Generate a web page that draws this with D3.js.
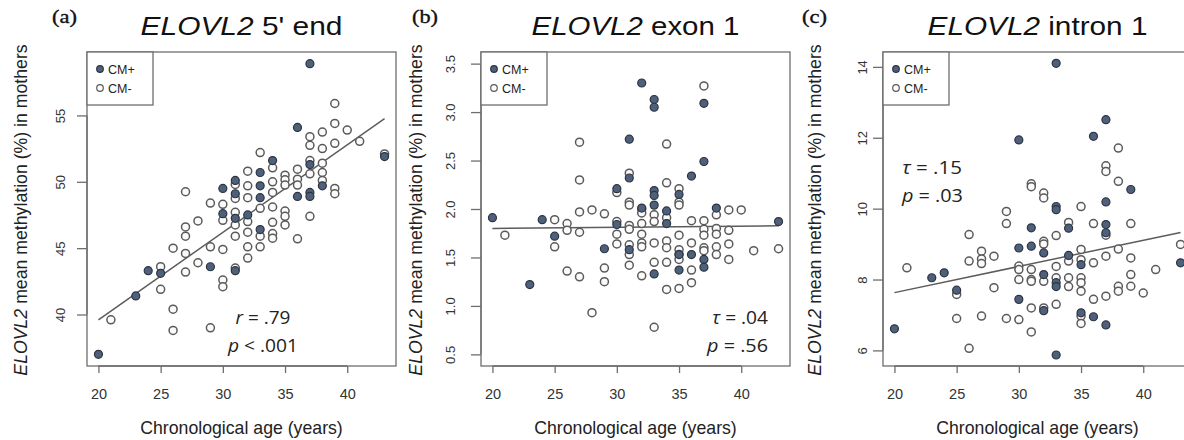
<!DOCTYPE html>
<html>
<head>
<meta charset="utf-8">
<script src="https://cdn.jsdelivr.net/npm/d3@7"></script>
<style>
html,body{margin:0;padding:0;background:#fff;}
svg{display:block;}
</style>
</head>
<body>
<svg id="chart" width="1184" height="440"></svg>
<script>
// ---------------- DATA ----------------
const panelLetters = ["(a)", "(b)", "(c)"];
const titleRest = [" 5' end", " exon 1", " intron 1"];
const xTicks = [20, 25, 30, 35, 40];
const yTicksA = [40, 45, 50, 55];
const yTicksB = [0.5, 1.0, 1.5, 2.0, 2.5, 3.0, 3.5];
const yTicksC = [6, 8, 10, 12, 14];
const legendLabels = ["CM+", "CM-"];
const statsA = [["r", " = .79"], ["p", " < .001"]];
const statsB = [["τ", " = .04"], ["p", " = .56"]];
const statsC = [["τ", " = .15"], ["p", " = .03"]];
// fitted regression lines: [intercept, slope], drawn over ages 20–43
const fitA = [26.43, 0.6587];
const fitB = [1.7774, 0.00113];
const fitC = [6.152, 0.0739];
const fitRange = [20, 43];

// [age, methylation]
const aPlus = [[20,37.0],[23,41.4],[24,43.3],[25,43.1],[29,43.6],[30,49.5],[30,47.6],[31,50.1],[31,49.1],[31,47.25],[31,43.3],[32,47.5],[33,50.7],[33,49.7],[33,48.8],[33,46.4],[34,51.6],[36,54.1],[36,48.9],[37,58.9],[37,51.3],[37,49.2],[37,48.9],[38,49.7],[43,51.9]];
const aMinus = [[21,39.6],[25,43.6],[25,41.9],[26,45.0],[26,40.4],[26,38.8],[27,49.25],[27,46.6],[27,45.9],[27,44.6],[27,43.2],[28,47.05],[28,43.9],[29,48.4],[29,45.1],[29,39.0],[30,48.3],[30,47.1],[30,44.9],[30,42.6],[30,42.1],[31,49.8],[31,48.75],[31,47.7],[31,46.75],[31,45.9],[31,43.5],[32,50.8],[32,49.7],[32,48.8],[32,47.0],[32,46.2],[32,45.1],[32,44.25],[33,52.2],[33,48.0],[33,45.9],[33,45.1],[34,51.05],[34,50.0],[34,49.2],[34,48.1],[34,46.95],[34,46.1],[34,45.75],[35,50.5],[35,50.15],[35,49.75],[35,47.8],[35,47.4],[35,46.75],[36,50.95],[36,50.2],[36,49.75],[36,45.7],[37,53.4],[37,52.75],[37,51.6],[37,50.6],[37,47.4],[38,53.75],[38,52.5],[38,51.4],[38,50.7],[38,50.1],[39,55.9],[39,54.4],[39,52.9],[39,49.5],[39,49.1],[40,53.9],[41,53.05],[43,52.1]];

const bPlus = [[20,1.91],[23,1.22],[24,1.89],[25,1.72],[29,1.59],[30,2.21],[30,1.84],[31,2.72],[31,2.32],[31,1.58],[32,3.30],[32,2.01],[33,3.13],[33,3.05],[33,2.19],[33,2.14],[33,2.04],[33,1.33],[34,1.98],[34,1.85],[35,2.15],[35,1.53],[35,1.37],[36,2.34],[36,1.53],[37,3.09],[37,2.49],[37,1.48],[37,1.40],[38,2.01],[43,1.87]];
const bMinus = [[21,1.73],[25,1.89],[25,1.61],[26,1.85],[26,1.78],[26,1.36],[27,2.69],[27,2.30],[27,1.97],[27,1.76],[27,1.30],[28,1.99],[28,0.93],[29,1.95],[29,1.39],[29,1.25],[30,2.17],[30,1.87],[30,1.74],[30,1.64],[31,2.37],[31,2.07],[31,2.04],[31,1.83],[31,1.79],[31,1.63],[31,1.53],[31,1.42],[32,2.00],[32,1.96],[32,1.85],[32,1.74],[32,1.65],[32,1.61],[32,1.31],[33,1.94],[33,1.87],[33,1.65],[33,1.45],[33,0.78],[34,2.67],[34,2.27],[34,1.91],[34,1.67],[34,1.60],[34,1.45],[34,1.17],[35,2.21],[35,2.07],[35,2.04],[35,1.73],[35,1.58],[35,1.53],[35,1.48],[35,1.18],[36,1.88],[36,1.65],[36,1.37],[36,1.24],[37,3.27],[37,1.88],[37,1.79],[37,1.73],[37,1.60],[37,1.57],[38,1.94],[38,1.80],[38,1.74],[38,1.61],[38,1.53],[39,1.99],[39,1.78],[39,1.64],[39,1.48],[40,1.99],[41,1.57],[43,1.59]];

const cPlus = [[20,6.61],[23,8.05],[24,8.19],[25,7.70],[30,11.94],[30,8.89],[30,7.44],[31,9.46],[31,8.94],[32,8.75],[32,8.14],[32,7.12],[33,14.10],[33,10.06],[33,9.97],[33,7.91],[33,7.80],[33,5.87],[34,8.68],[34,9.45],[35,8.42],[35,7.06],[36,12.04],[36,6.95],[37,12.51],[37,10.19],[37,9.55],[37,9.32],[37,6.72],[39,10.54],[43,8.47]];
const cMinus = [[21,8.33],[25,7.58],[25,6.90],[26,9.27],[26,8.52],[26,6.06],[27,8.80],[27,8.58],[27,8.45],[27,6.97],[28,8.66],[28,7.77],[29,9.92],[29,9.58],[29,6.90],[30,8.38],[30,8.28],[30,8.0],[30,6.87],[31,10.70],[31,10.62],[31,8.28],[31,8.0],[31,7.95],[31,7.20],[31,6.52],[32,10.44],[32,10.30],[32,9.08],[32,9.0],[32,7.95],[32,7.20],[33,9.24],[33,8.37],[33,8.05],[33,7.30],[34,9.61],[34,8.52],[34,8.05],[34,7.80],[35,10.06],[35,8.85],[35,8.56],[35,8.05],[35,7.91],[35,7.67],[35,6.97],[35,6.76],[36,9.58],[36,8.47],[36,7.44],[37,11.21],[37,11.05],[37,9.25],[37,8.66],[37,7.53],[38,11.71],[38,10.77],[38,8.86],[38,7.81],[38,7.67],[39,9.58],[39,8.61],[39,8.14],[39,7.81],[40,7.62],[41,8.28],[43,8.99]];

// ---------------- LAYOUT ----------------
const panels = [
  {L:87,  yDomain:[36.12,59.78], yTicks:yTicksA, fmt:d=>String(d), plus:aPlus, minus:aMinus, fit:fitA,
   stats:statsA, statAnchor:"middle", statX:263, statY:[324,352], statW:[55,70],
   titleW:202, letterX:52, letterW:25, yTickBase:65, yLabBase:27},
  {L:481, yDomain:[0.38,3.62], yTicks:yTicksB, fmt:d3.format(".1f"), plus:bPlus, minus:bMinus, fit:fitB,
   stats:statsB, statAnchor:"end", statX:768, statY:[324,352], statW:[56,61],
   titleW:208, letterX:412, letterW:26, yTickBase:455, yLabBase:422},
  {L:883, yDomain:[5.56,14.42], yTicks:yTicksC, fmt:d=>String(d), plus:cPlus, minus:cMinus, fit:fitC,
   stats:statsC, statAnchor:"start", statX:902, statY:[174,202], statW:[60,61],
   titleW:220, letterX:802, letterW:25, yTickBase:867, yLabBase:821}
];
const boxW = 309, boxTop = 52, boxBottom = 366;
const boxColor = "#6e6e6e";
const plusFill = "#4f607a", plusStroke = "#2c3442";
const minusFill = "#fbfbfb", minusStroke = "#5a5a5a";
const sansFont = "'Liberation Sans', Arial, sans-serif";

const svg = d3.select("#chart");

function scaleToWidth(sel, x, y, w) {
  const cur = sel.node().getComputedTextLength();
  const s = cur > 0 ? w / cur : 1;
  sel.attr("transform", `translate(${x},${y}) scale(${s},1)`);
}

panels.forEach((p, i) => {
  const g = svg.append("g");
  const x = d3.scaleLinear().domain([19.08, 43.92]).range([p.L, p.L + boxW]);
  const y = d3.scaleLinear().domain(p.yDomain).range([boxBottom, boxTop]);
  const cx = p.L + boxW / 2;

  // box
  g.append("rect").attr("x", p.L).attr("y", boxTop).attr("width", boxW).attr("height", boxBottom - boxTop)
    .attr("fill", "none").attr("stroke", boxColor).attr("stroke-width", 1.3);

  // x axis
  const xa = g.append("g").attr("transform", `translate(0,${boxBottom})`)
    .call(d3.axisBottom(x).tickValues(xTicks).tickSize(7).tickSizeOuter(0).tickFormat(d => d));
  xa.select(".domain").attr("stroke", boxColor).attr("stroke-width", 1.3)
    .attr("d", `M${x(xTicks[0])},0H${x(xTicks[xTicks.length-1])}`);
  xa.selectAll(".tick line").attr("stroke", boxColor).attr("stroke-width", 1.3);
  xa.selectAll(".tick text").attr("fill", "#333").attr("font-family", sansFont)
    .attr("font-size", 14.5).attr("y", 0).attr("dy", null)
    .attr("transform", "translate(0,33)");

  // y axis
  const ya = g.append("g").attr("transform", `translate(${p.L},0)`)
    .call(d3.axisLeft(y).tickValues(p.yTicks).tickSize(10).tickSizeOuter(0).tickFormat(p.fmt));
  ya.select(".domain").attr("stroke", boxColor).attr("stroke-width", 1.3)
    .attr("d", `M0,${y(p.yTicks[0])}V${y(p.yTicks[p.yTicks.length-1])}`);
  ya.selectAll(".tick line").attr("stroke", boxColor).attr("stroke-width", 1.3);
  ya.selectAll(".tick text").attr("fill", "#333").attr("font-family", sansFont)
    .attr("font-size", 13).attr("x", 0).attr("dy", null).attr("text-anchor", "middle")
    .attr("transform", `translate(${p.yTickBase - p.L},0) rotate(-90)`);

  // regression line
  g.append("path")
    .datum(fitRange)
    .attr("d", d3.line().x(d => x(d)).y(d => y(p.fit[0] + p.fit[1] * d)))
    .attr("fill", "none").attr("stroke", "#5c5c5c").attr("stroke-width", 1.5);

  // points
  g.append("g").selectAll("circle").data(p.minus).join("circle")
    .attr("cx", d => x(d[0])).attr("cy", d => y(d[1])).attr("r", 4)
    .attr("fill", minusFill).attr("stroke", minusStroke).attr("stroke-width", 1.5);
  g.append("g").selectAll("circle").data(p.plus).join("circle")
    .attr("cx", d => x(d[0])).attr("cy", d => y(d[1])).attr("r", 4)
    .attr("fill", plusFill).attr("stroke", plusStroke).attr("stroke-width", 1.2);

  // legend
  const lg = g.append("g");
  lg.append("rect").attr("x", p.L).attr("y", boxTop).attr("width", 66).attr("height", 53)
    .attr("fill", "#fff").attr("stroke", boxColor).attr("stroke-width", 1.3);
  legendLabels.forEach((lab, k) => {
    const ly = 69 + k * 19;
    lg.append("circle").attr("cx", p.L + 13).attr("cy", ly).attr("r", 3.3)
      .attr("fill", k === 0 ? plusFill : minusFill)
      .attr("stroke", k === 0 ? plusStroke : minusStroke).attr("stroke-width", 1.2);
    lg.append("text").attr("x", p.L + 21).attr("y", ly + 5).text(lab)
      .attr("font-family", sansFont).attr("font-size", 12.5).attr("fill", "#222");
  });

  // stats
  p.stats.forEach((s, k) => {
    const t = g.append("text").attr("text-anchor", p.statAnchor)
      .attr("font-family", "'Open Sans', 'Noto Sans', sans-serif").attr("font-size", 18).attr("fill", "#222");
    t.append("tspan").attr("font-style", "italic").text(s[0]);
    t.append("tspan").text(s[1]);
    scaleToWidth(t, p.statX, p.statY[k], p.statW[k]);
  });

  // title
  const tt = g.append("text").attr("text-anchor", "middle")
    .attr("font-family", sansFont).attr("font-size", 25).attr("fill", "#111");
  tt.append("tspan").attr("font-style", "italic").text("ELOVL2");
  tt.append("tspan").text(titleRest[i]);
  scaleToWidth(tt, cx, 35, p.titleW);

  // panel letter
  const lt = g.append("text").attr("text-anchor", "start")
    .attr("font-family", "'Liberation Serif', 'Times New Roman', serif").attr("font-size", 19)
    .attr("fill", "#111").attr("stroke", "#111").attr("stroke-width", 0.35)
    .text(panelLetters[i]);
  scaleToWidth(lt, p.letterX, 23, p.letterW);

  // x label
  g.append("text").attr("x", cx).attr("y", 434).attr("text-anchor", "middle")
    .attr("font-family", sansFont).attr("font-size", 17.7).attr("fill", "#222")
    .text("Chronological age (years)");

  // y label
  const yl = g.append("text").attr("text-anchor", "middle")
    .attr("transform", `translate(${p.yLabBase},210) rotate(-90)`)
    .attr("font-family", sansFont).attr("font-size", 17.7).attr("fill", "#222");
  yl.append("tspan").attr("font-style", "italic").text("ELOVL2");
  yl.append("tspan").text(" mean methylation (%) in mothers");
});
</script>
</body>
</html>
